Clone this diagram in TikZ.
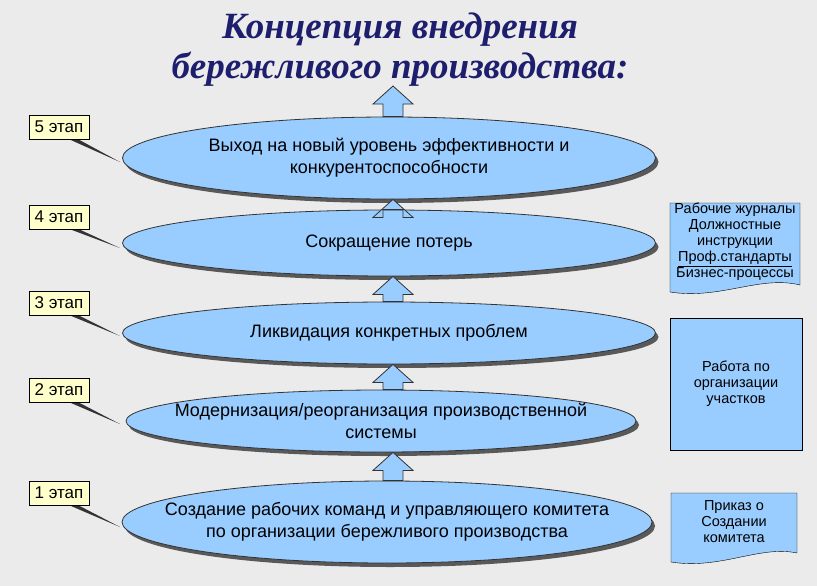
\documentclass[tikz,border=0pt]{standalone}
\usepackage{fontspec}
\setmainfont{Liberation Sans}
\newfontfamily\titlefont{Liberation Serif}
\usetikzlibrary{shapes.geometric,shadows,calc}
\definecolor{stageblue}{RGB}{153,204,255}
\definecolor{titleblue}{RGB}{30,30,110}
\definecolor{notefill}{RGB}{255,255,204}
\tikzset{
  stage/.style={ellipse, draw=black!80, thick, fill=stageblue, align=center, inner xsep=-45pt, inner ysep=-10pt,
    font=\fontsize{18}{22}\selectfont, drop shadow={shadow xshift=3pt, shadow yshift=-4pt, fill=black!65, opacity=1}},
  tag/.style={draw, fill=notefill, font=\fontsize{17}{20}\selectfont, inner sep=2pt, minimum width=60pt, minimum height=24pt},
  sidebox/.style={draw, fill=stageblue, align=center, font=\fontsize{14.5}{16}\selectfont, inner sep=2pt},
  sidetext/.style={align=center, font=\fontsize{14.5}{16}\selectfont},
  uparrow/.style={draw=black!80, thick, fill=stageblue}
}
% block arrow between two named nodes
\newcommand{\blockarrow}[2]{%
  \draw[uparrow] ($(top |- #1.north)+(-10,0)$) -- ($(top |- #2.south)+(-10,18)$) -- ($(top |- #2.south)+(-20,18)$)
    -- (top |- #2.south) -- ($(top |- #2.south)+(20,18)$) -- ($(top |- #2.south)+(10,18)$) -- ($(top |- #1.north)+(10,0)$) -- cycle;}
\begin{document}
\begin{tikzpicture}[x=1pt, y=-1pt]
  % background
  \fill[black!8] (0,0) rectangle (817,586);
  \useasboundingbox (0,0) rectangle (817,586);

  % title
  \node[font=\titlefont\bfseries\itshape\fontsize{37}{40}\selectfont, text=titleblue, align=center]
    (title) at (400,50) {Концепция внедрения\\бережливого производства:};
  \coordinate (top) at (393,86);

  % the stages
  \node[stage, minimum width=533pt, minimum height=82pt] (s5) at (389,158)
    {Выход на новый уровень эффективности и\\конкурентоспособности};
  \node[stage, minimum width=533pt, minimum height=66pt] (s4) at (389,243) {Сокращение потерь};
  \node[stage, minimum width=533pt, minimum height=62pt] (s3) at (389,333) {Ликвидация конкретных проблем};
  \node[stage, minimum width=510pt, minimum height=62pt] (s2) at (381,421)
    {Модернизация/реорганизация производственной\\системы};
  \node[stage, minimum width=530pt, minimum height=82pt] (s1) at (387,522)
    {Создание рабочих команд и управляющего комитета\\по организации бережливого производства};

  % arrows between the stages
  \blockarrow{s1}{s2}
  \blockarrow{s2}{s3}
  \blockarrow{s3}{s4}
  \blockarrow{s4}{s5}
  \draw[uparrow] ($(top |- s5.north)+(-10,0)$) -- ($(top)+(-10,18)$) -- ($(top)+(-20,18)$) -- (top)
    -- ($(top)+(20,18)$) -- ($(top)+(10,18)$) -- ($(top |- s5.north)+(10,0)$) -- cycle;

  % stage labels
  \foreach \n/\y/\py in {5/127/162, 4/217/248, 3/303/336, 2/390/424, 1/493/527} {
    \coordinate (p\n) at (120,\py);
    \fill[black!80] (64,\y+10) -- (p\n) -- (74,\y+10) -- cycle;
    \node[tag] (t\n) at (59,\y) {\n{} этап};
  }

  % documents on the right
  \filldraw[fill=stageblue] (670,203) -- (800,203) -- (800,285) .. controls (760,275) and (720,300) .. (670,292) -- cycle;
  \node[sidetext] (d4) at (735,242)
    {Рабочие журналы\\Должностные\\инструкции\\\underline{Проф.стандарты}\\Бизнес-процессы};
  \node[sidebox, minimum width=132pt, minimum height=132pt] (d2) at (736,384) {Работа по\\организации\\участков};
  \filldraw[fill=stageblue] (671,493) -- (797,493) -- (797,553) .. controls (760,545) and (720,570) .. (671,562) -- cycle;
  \node[sidetext] (d1) at (734,522) {Приказ о\\Создании\\комитета};
\end{tikzpicture}
\end{document}
